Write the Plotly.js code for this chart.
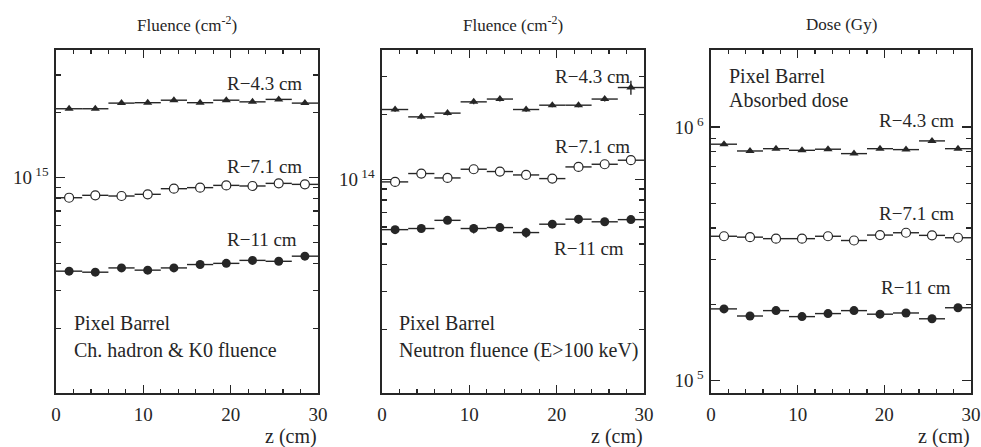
<!DOCTYPE html>
<html>
<head>
<meta charset="utf-8">
<script src="https://cdn.plot.ly/plotly-3.0.1.min.js"></script>
<style>html,body{margin:0;padding:0;background:#fff;}#chart{width:981px;height:447px;}</style>
</head>
<body>
<div id="chart"></div>
<script>
// z bin centres (cm)
const z = [1.5, 4.5, 7.5, 10.5, 13.5, 16.5, 19.5, 22.5, 25.5, 28.5];
const zHalfWidth = 1.5;

// Panel 1: charged hadron & K0 fluence (cm^-2)
const chR43 = [2.09e15, 2.09e15, 2.22e15, 2.23e15, 2.29e15, 2.23e15, 2.29e15, 2.25e15, 2.31e15, 2.22e15];
const chR71 = [0.807e15, 0.828e15, 0.822e15, 0.837e15, 0.889e15, 0.899e15, 0.921e15, 0.915e15, 0.941e15, 0.931e15];
const chR11 = [0.368e15, 0.364e15, 0.381e15, 0.372e15, 0.381e15, 0.395e15, 0.400e15, 0.413e15, 0.409e15, 0.432e15];

// Panel 2: neutron fluence E>100 keV (cm^-2)
const nR43 = [2.11e14, 1.95e14, 2.03e14, 2.29e14, 2.36e14, 2.11e14, 2.21e14, 2.21e14, 2.36e14, 2.67e14];
const nR71 = [0.972e14, 1.063e14, 1.014e14, 1.113e14, 1.086e14, 1.047e14, 1.007e14, 1.141e14, 1.174e14, 1.226e14];
const nR11 = [0.583e14, 0.590e14, 0.644e14, 0.590e14, 0.596e14, 0.565e14, 0.618e14, 0.652e14, 0.634e14, 0.649e14];
const nR43err = [0.05e14, 0.05e14, 0.05e14, 0.06e14, 0.06e14, 0.05e14, 0.05e14, 0.05e14, 0.06e14, 0.2e14];
const nR71err = [0.02e14, 0.02e14, 0.04e14, 0.05e14, 0.05e14, 0.02e14, 0.02e14, 0.02e14, 0.03e14, 0.05e14];
const nR11err = [0.01e14, 0.01e14, 0.02e14, 0.03e14, 0.01e14, 0.03e14, 0.02e14, 0.03e14, 0.01e14, 0.02e14];

// Panel 3: absorbed dose (Gy)
const dR43 = [8.55e5, 8.04e5, 8.21e5, 8.09e5, 8.17e5, 7.85e5, 8.21e5, 8.14e5, 8.81e5, 8.21e5];
const dR71 = [3.71e5, 3.68e5, 3.63e5, 3.63e5, 3.71e5, 3.57e5, 3.75e5, 3.83e5, 3.74e5, 3.66e5];
const dR11 = [1.92e5, 1.80e5, 1.89e5, 1.79e5, 1.84e5, 1.89e5, 1.83e5, 1.85e5, 1.755e5, 1.94e5];

// Tick labels
const xTickVals = [0, 10, 20, 30];
const xTickText = ['0', '10', '20', '30'];

const INK = '#262626';
const FONT = "'Liberation Serif', 'DejaVu Serif', serif";

function series(y, ax, symbol, err) {
  const filled = symbol !== 'circle-open';
  const tr = {
    x: z, y: y, xaxis: 'x' + ax, yaxis: 'y' + ax,
    type: 'scatter', mode: 'markers', showlegend: false,
    marker: {
      symbol: filled ? symbol : 'circle',
      size: symbol === 'triangle-up' ? 8 : 9,
      color: filled ? INK : '#fff',
      line: {color: INK, width: filled ? 0 : 1.2}
    },
    error_x: {type: 'constant', value: zHalfWidth, width: 0, thickness: 1.4, color: INK}
  };
  if (err) tr.error_y = {type: 'data', array: err, visible: true, width: 0, thickness: 1.4, color: INK};
  return tr;
}

const data = [
  series(chR43, '', 'triangle-up'), series(chR71, '', 'circle-open'), series(chR11, '', 'circle'),
  series(nR43, '2', 'triangle-up', nR43err), series(nR71, '2', 'circle-open', nR71err), series(nR11, '2', 'circle', nR11err),
  series(dR43, '3', 'triangle-up'), series(dR71, '3', 'circle-open'), series(dR11, '3', 'circle')
];

const W = 981, H = 447;
const px = v => v / W;
const py = v => 1 - v / H;

function xAxis(domain, anchor) {
  return {
    domain: domain, anchor: anchor, range: [0, 30],
    tickmode: 'array', tickvals: xTickVals, ticktext: xTickText,
    ticks: 'inside', ticklen: 8, tickwidth: 1.3, tickcolor: INK,
    mirror: 'allticks', showline: true, linewidth: 1.6, linecolor: INK,
    showgrid: false, zeroline: false,
    tickfont: {family: FONT, size: 19, color: INK},
    ticklabelstandoff: 4,
    minor: {dtick: 2, tick0: 0, ticks: 'inside', ticklen: 4, tickwidth: 1.2, tickcolor: INK, showgrid: false}
  };
}
function yAxis(domain, anchor, range, major, majorText, minorVals) {
  return {
    domain: domain, anchor: anchor, type: 'log', range: range,
    tickmode: 'array', tickvals: major, ticktext: majorText,
    ticks: 'inside', ticklen: 9, tickwidth: 1.3, tickcolor: INK,
    mirror: 'allticks', showline: true, linewidth: 1.6, linecolor: INK,
    showgrid: false, zeroline: false,
    tickfont: {family: FONT, size: 19, color: INK},
    ticklabelstandoff: 2,
    minor: {tickmode: 'array', tickvals: minorVals, ticks: 'inside', ticklen: 5, tickwidth: 1.2, tickcolor: INK, showgrid: false}
  };
}
function minorLog(exps) {
  const out = [];
  exps.forEach(e => { for (let d = 2; d <= 9; d++) out.push(d * Math.pow(10, e)); });
  return out;
}

const yDom = [py(393), py(50)];

const layout = {
  width: W, height: H,
  margin: {l: 0, r: 0, t: 0, b: 0},
  paper_bgcolor: '#fff', plot_bgcolor: '#fff',
  font: {family: FONT, color: INK},
  xaxis: xAxis([px(56), px(318)], 'y'),
  yaxis: yAxis(yDom, 'x', [14.0, 15.593], [1e15], ['10<sup> 15</sup>'], minorLog([14, 15])),
  xaxis2: xAxis([px(382), px(644)], 'y2'),
  yaxis2: yAxis(yDom, 'x2', [13.006, 14.601], [1e14], ['10<sup> 14</sup>'], minorLog([13, 14])),
  xaxis3: xAxis([px(711), px(971)], 'y3'),
  yaxis3: yAxis(yDom, 'x3', [4.952, 6.303], [1e5, 1e6], ['10<sup> 5</sup>', '10<sup> 6</sup>'], minorLog([4, 5, 6])),
  annotations: []
};

function note(text, x, y, anchor, size) {
  layout.annotations.push({
    text: text, xref: 'paper', yref: 'paper', x: px(x), y: py(y),
    xanchor: anchor, yanchor: 'middle', showarrow: false,
    font: {family: FONT, size: size || 20, color: INK}
  });
}

// Panel titles
note('Fluence (cm<sup>-2</sup>)', 187, 24, 'center', 17);
note('Fluence (cm<sup>-2</sup>)', 513, 24, 'center', 17);
note('Dose (Gy)', 841, 24, 'center', 17);
// x-axis titles
note('z (cm)', 319, 436, 'right', 20);
note('z (cm)', 645, 436, 'right', 20);
note('z (cm)', 972, 436, 'right', 20);

// Panel 1 labels
note('R\u22124.3 cm', 304, 84, 'right', 19);
note('R\u22127.1 cm', 304, 166, 'right', 19);
note('R\u221211 cm', 299, 239, 'right', 19);
note('Pixel Barrel', 72, 323, 'left');
note('Ch. hadron &amp; K0 fluence', 72, 350, 'left');

// Panel 2 labels
note('R\u22124.3 cm', 632, 77, 'right', 19);
note('R\u22127.1 cm', 632, 146, 'right', 19);
note('R\u221211 cm', 626, 248, 'right', 19);
note('Pixel Barrel', 397, 323, 'left');
note('Neutron fluence (E&gt;100 keV)', 397, 350, 'left');

// Panel 3 labels
note('Pixel Barrel', 727, 76, 'left');
note('Absorbed dose', 727, 100, 'left');
note('R\u22124.3 cm', 956, 121, 'right', 19);
note('R\u22127.1 cm', 956, 213, 'right', 19);
note('R\u221211 cm', 953, 287, 'right', 19);

Plotly.newPlot('chart', data, layout, {displayModeBar: false, staticPlot: true});
</script>
</body>
</html>
